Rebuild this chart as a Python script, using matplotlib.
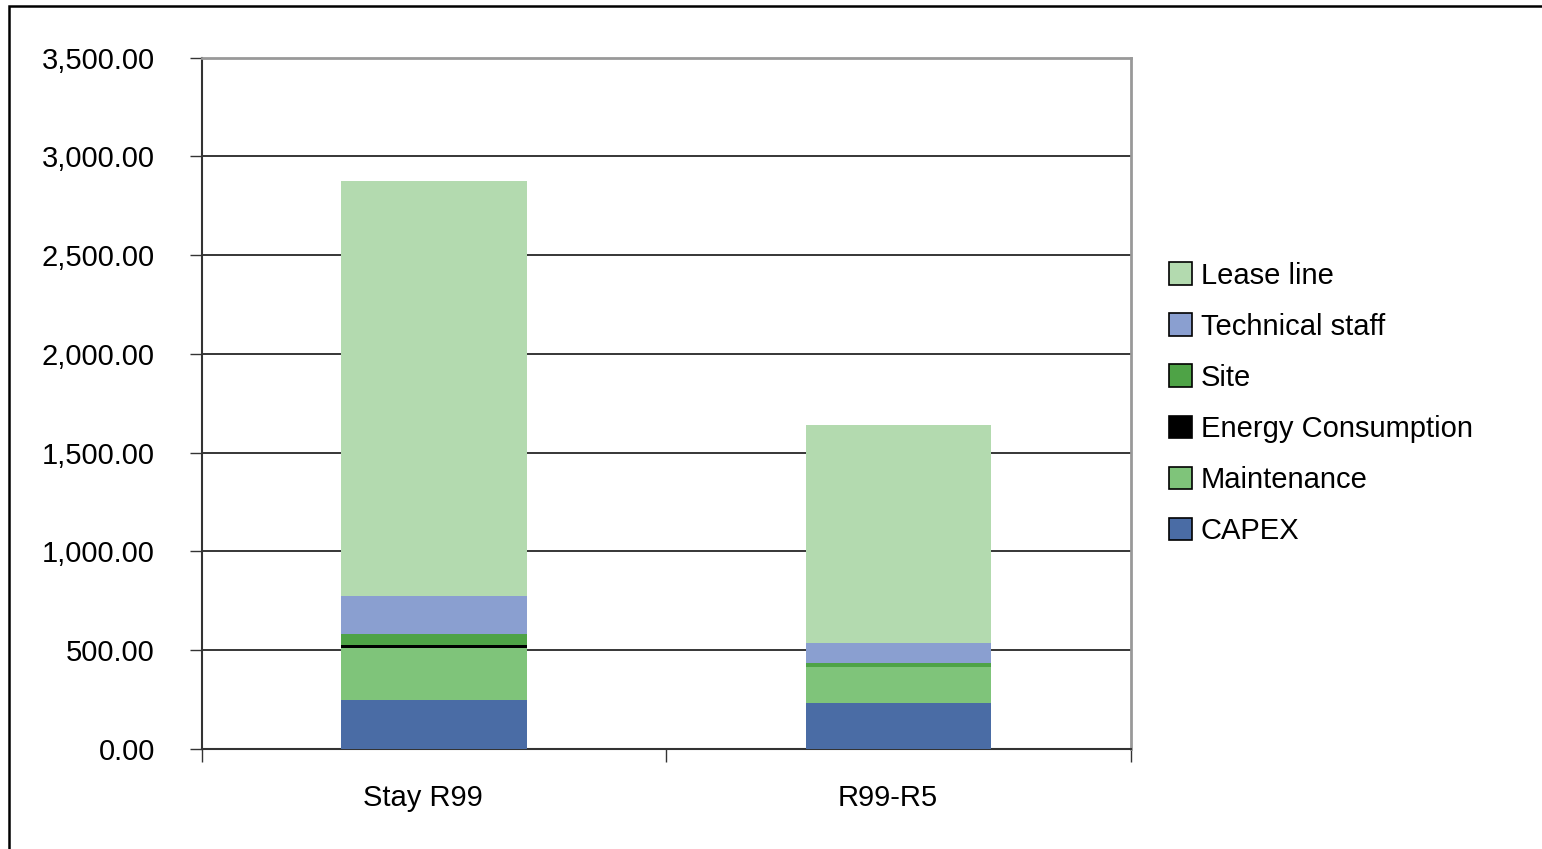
import matplotlib
matplotlib.use("Agg")
import matplotlib.pyplot as plt
from matplotlib.patches import Rectangle, Patch
from matplotlib.ticker import FuncFormatter, FixedLocator
from matplotlib.transforms import ScaledTranslation
import numpy as np

plt.rcParams['font.family'] = ['Liberation Sans', 'DejaVu Sans']

# Data (stack order bottom -> top)
scenarios = ["Stay R99", "R99-R5"]
capex = [248, 233]
maintenance = [263, 184]
energy = [15, 0]
site = [56, 18]
technical_staff = [193, 102]
lease_line = [2101, 1103]

series = [
    ("CAPEX", capex, "#4A6CA5"),
    ("Maintenance", maintenance, "#7FC47A"),
    ("Energy Consumption", energy, "#000000"),
    ("Site", site, "#4EA346"),
    ("Technical staff", technical_staff, "#8A9FD0"),
    ("Lease line", lease_line, "#B3DAAF"),
]

fig = plt.figure(figsize=(15.42, 8.49), dpi=100)
ax = fig.add_axes([202 / 1542, 1 - 749 / 849, (1130.7 - 202) / 1542, (749 - 57.7) / 849])

x = np.arange(len(scenarios))
bottom = np.zeros(len(scenarios))
for name, vals, color in series:
    ax.bar(x, vals, width=0.4, bottom=bottom, color=color, linewidth=0, zorder=3)
    bottom += np.array(vals)

ax.set_xlim(-0.5, 1.5)
ax.set_ylim(0, 3500)

# gridlines
for yv in range(500, 3500, 500):
    ax.axhline(yv, color="black", linewidth=1.1, zorder=1)

ax.yaxis.set_major_locator(FixedLocator(np.arange(0, 3501, 500)))
ax.yaxis.set_major_formatter(FuncFormatter(lambda v, p: f"{v:,.2f}"))
ax.tick_params(axis="y", direction="out", length=9, width=1, color="#333333",
               labelsize=21, pad=25)

ax.set_xticks(x)
ax.set_xticklabels(scenarios)
ax.tick_params(axis="x", length=0, labelsize=21, pad=25)
ax.set_xticks([-0.5, 0.5, 1.5], minor=True)
ax.tick_params(axis="x", which="minor", direction="out", length=9, width=1, color="#333333")
# category labels sit a little left of the bar centres in the original
shift = ScaledTranslation(-11 / 100, 0, fig.dpi_scale_trans)
for lbl in ax.get_xticklabels():
    lbl.set_transform(lbl.get_transform() + shift)

ax.spines["left"].set_color("#333333")
ax.spines["bottom"].set_color("#333333")
ax.spines["left"].set_linewidth(1.5)
ax.spines["bottom"].set_linewidth(1.5)
ax.spines["top"].set_color("#999999")
ax.spines["right"].set_color("#999999")
ax.spines["top"].set_linewidth(2)
ax.spines["right"].set_linewidth(2)

handles = [Patch(facecolor=c, edgecolor="black" if n != "Energy Consumption" else c,
                 linewidth=1.2, label=n) for n, _, c in reversed(series)]
fig.legend(handles=handles, loc="upper left", bbox_to_anchor=(1157 / 1542, 1 - 250 / 849),
           frameon=False, fontsize=21, handlelength=0.8, handleheight=0.8,
           handletextpad=0.3, labelspacing=0.79, borderaxespad=0)

# outer chart border (cropped at right and bottom)
fig.patches.append(Rectangle((9 / 1542, -0.5), 2, 1.5 - 6 / 849, transform=fig.transFigure,
                             fill=False, edgecolor="black", linewidth=1.8))

fig.savefig("out.png", dpi=100)
